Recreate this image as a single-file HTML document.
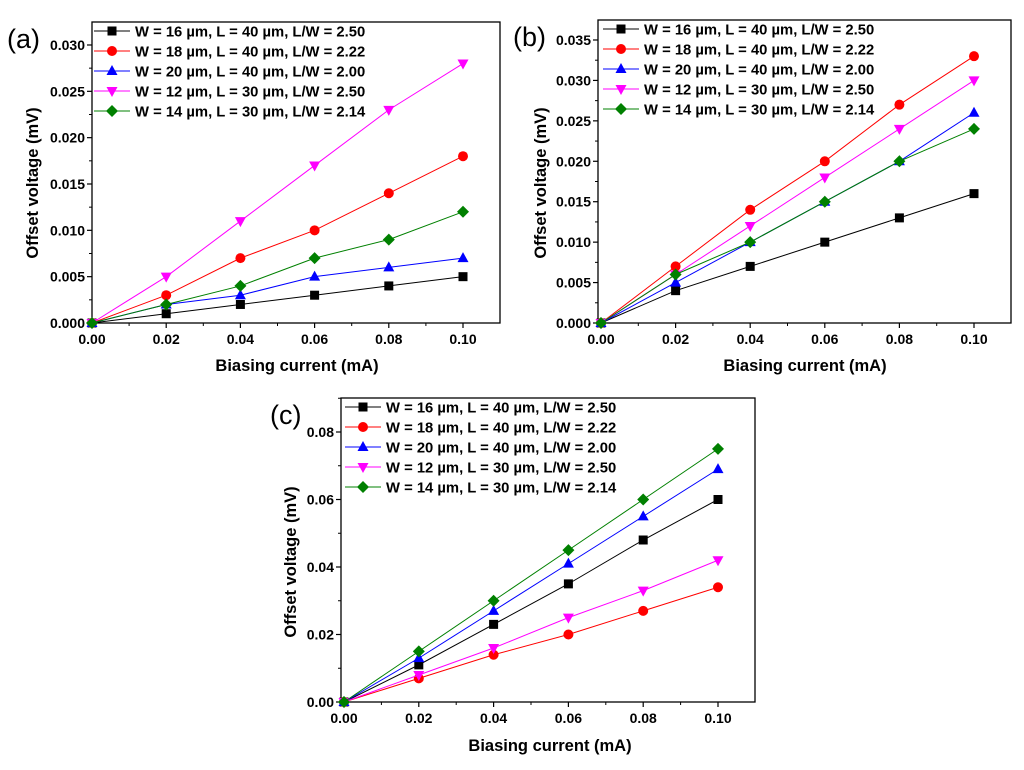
<!DOCTYPE html>
<html><head><meta charset="utf-8"><style>
body{margin:0;background:#fff;}
svg{display:block;font-family:"Liberation Sans",sans-serif;}
</style></head><body>
<svg id="fig" width="1024" height="770" viewBox="0 0 1024 770"></svg>
<script>
const xCategories=[0,0.02,0.04,0.06,0.08,0.10];
const seriesLabels=["W = 16 µm, L = 40 µm, L/W = 2.50","W = 18 µm, L = 40 µm, L/W = 2.22","W = 20 µm, L = 40 µm, L/W = 2.00","W = 12 µm, L = 30 µm, L/W = 2.50","W = 14 µm, L = 30 µm, L/W = 2.14"];
const aW16=[0,0.001,0.002,0.003,0.004,0.005];
const aW18=[0,0.003,0.007,0.010,0.014,0.018];
const aW20=[0,0.002,0.003,0.005,0.006,0.007];
const aW12=[0,0.005,0.011,0.017,0.023,0.028];
const aW14=[0,0.002,0.004,0.007,0.009,0.012];
const bW16=[0,0.004,0.007,0.010,0.013,0.016];
const bW18=[0,0.007,0.014,0.020,0.027,0.033];
const bW20=[0,0.005,0.010,0.015,0.020,0.026];
const bW12=[0,0.006,0.012,0.018,0.024,0.030];
const bW14=[0,0.006,0.010,0.015,0.020,0.024];
const cW16=[0,0.011,0.023,0.035,0.048,0.060];
const cW18=[0,0.007,0.014,0.020,0.027,0.034];
const cW20=[0,0.013,0.027,0.041,0.055,0.069];
const cW12=[0,0.008,0.016,0.025,0.033,0.042];
const cW14=[0,0.015,0.030,0.045,0.060,0.075];
const xTicks=["0.00","0.02","0.04","0.06","0.08","0.10"];
const aYTicks=["0.000","0.005","0.010","0.015","0.020","0.025","0.030"];
const bYTicks=["0.000","0.005","0.010","0.015","0.020","0.025","0.030","0.035"];
const cYTicks=["0.00","0.02","0.04","0.06","0.08"];

const colors=["#000000","#ff0000","#0000ff","#ff00ff","#008000"];
const shapes=["square","circle","up","down","diamond"];
const NS="http://www.w3.org/2000/svg";
const svg=document.getElementById('fig');
function mk(tag,attrs,parent){const e=document.createElementNS(NS,tag);for(const k in attrs)e.setAttribute(k,attrs[k]);(parent||svg).appendChild(e);return e;}
function marker(g,shape,x,y,c){
  let e;
  if(shape==="square")e=mk('rect',{x:x-4.5,y:y-4.5,width:9,height:9,fill:c},g);
  else if(shape==="circle")e=mk('circle',{cx:x,cy:y,r:5,fill:c},g);
  else if(shape==="up")e=mk('polygon',{points:`${x},${y-6} ${x+5.5},${y+4} ${x-5.5},${y+4}`,fill:c},g);
  else if(shape==="down")e=mk('polygon',{points:`${x},${y+6} ${x+5.5},${y-4} ${x-5.5},${y-4}`,fill:c},g);
  else e=mk('polygon',{points:`${x},${y-6} ${x+6},${y} ${x},${y+6} ${x-6},${y}`,fill:c},g);
  return e;
}
function panel(p){
  const g=mk('g',{});
  
  
  const X=v=>p.x0+(v)*p.xs, Y=v=>p.y0-v*p.ys;
  const fr=mk('rect',{x:p.L,y:p.T,width:p.R-p.L,height:p.B-p.T,fill:'none',stroke:'#000','stroke-width':1.3},g);
  
  for(let i=0;i<xTicks.length;i++){
    const v=xCategories[i];const x=X(v);
    mk('line',{x1:x,y1:p.B,x2:x,y2:p.B+5,stroke:'#000','stroke-width':1.2},g);
    const t=mk('text',{x:x,y:p.B+21,'text-anchor':'middle','font-size':14,'font-weight':'bold'},g);t.textContent=xTicks[i];
    
  }
  for(let v=0.01;v<0.11;v+=0.02){const x=X(v);if(x<p.R)mk('line',{x1:x,y1:p.B,x2:x,y2:p.B+3,stroke:'#000','stroke-width':1},g);}
  for(let i=0;i<p.yTicks.length;i++){
    const v=parseFloat(p.yTicks[i]);const y=Y(v);
    mk('line',{x1:p.L-5,y1:y,x2:p.L,y2:y,stroke:'#000','stroke-width':1.2},g);
    const t=mk('text',{x:p.L-7,y:y+5,'text-anchor':'end','font-size':14,'font-weight':'bold'},g);t.textContent=p.yTicks[i];
    
    const ym=Y(v+p.ystep/2);if(ym>p.T)mk('line',{x1:p.L-3,y1:ym,x2:p.L,y2:ym,stroke:'#000','stroke-width':1},g);
  }
  const xt=mk('text',{x:p.xtx,y:p.xty,'text-anchor':'middle','font-size':16.5,'font-weight':'bold'},g);xt.textContent="Biasing current (mA)";
  
  const yt=mk('text',{x:0,y:0,'text-anchor':'middle','font-size':16.5,'font-weight':'bold',transform:`translate(${p.ytx},${p.yty}) rotate(-90)`},g);yt.textContent="Offset voltage (mV)";
  
  const pl=mk('text',{x:p.lx,y:p.ly,'font-size':27},g);pl.textContent="("+p.id+")";
  
  p.series.forEach((s,si)=>{
    const sg=mk('g',{},g);
    
    const pts=xCategories.map((v,i)=>X(v)+','+Y(s[i])).join(' ');
    mk('polyline',{points:pts,fill:'none',stroke:colors[si],'stroke-width':1},sg);
    xCategories.forEach((v,i)=>{const m=marker(sg,shapes[si],X(v),Y(s[i]),colors[si]);
      });
  });
  const lg=mk('g',{},g);
  
  seriesLabels.forEach((lab,si)=>{
    const y=p.legY+si*20;
    const eg=mk('g',{},lg);
    
    mk('line',{x1:p.legX,y1:y,x2:p.legX+36,y2:y,stroke:colors[si],'stroke-width':1},eg);
    marker(eg,shapes[si],p.legX+18,y,colors[si]);
    const t=mk('text',{x:p.legX+41,y:y+5.5,'font-size':14.8,'font-weight':'bold'},eg);t.textContent=lab;
  });
}
panel({id:'a',L:92,R:500,T:22,B:323,x0:92,xs:3710,y0:323,ys:9267,ystep:0.005,yTicks:aYTicks,
  series:[aW16,aW18,aW20,aW12,aW14],xtx:297,xty:371,ytx:38,yty:183,lx:7,ly:48,legX:94,legY:31});
panel({id:'b',L:598,R:1011,T:20,B:323,x0:601,xs:3730,y0:323,ys:8086,ystep:0.005,yTicks:bYTicks,
  series:[bW16,bW18,bW20,bW12,bW14],xtx:805,xty:371,ytx:546,yty:183,lx:513,ly:46,legX:603,legY:29});
panel({id:'c',L:341,R:755,T:398,B:702,x0:344,xs:3740,y0:702,ys:3375,ystep:0.02,yTicks:cYTicks,
  series:[cW16,cW18,cW20,cW12,cW14],xtx:550,xty:751,ytx:296,yty:562,lx:270,ly:424,legX:345,legY:407});
</script>
</body></html>
